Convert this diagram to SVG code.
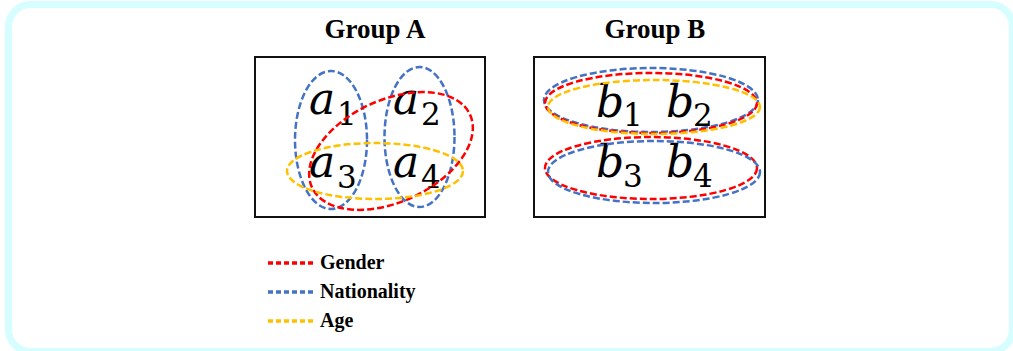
<svg xmlns="http://www.w3.org/2000/svg" width="1013" height="351" viewBox="0 0 1013 351">
<style>
.frame{fill:#ffffff;stroke:#d6fdff;stroke-width:7}
.box{fill:#ffffff;stroke:#111;stroke-width:2}
.title{font-family:"Liberation Serif",serif;font-weight:bold;font-size:27px;fill:#000;text-anchor:middle}
.var{font-family:"DejaVu Serif",serif;font-style:italic;font-size:44px;fill:#000}
.sub{font-family:"DejaVu Serif",serif;font-style:normal;font-size:31px;fill:#000}
.e{fill:none;stroke-width:2.5;stroke-dasharray:7 3}
.red{stroke:#ff0000}
.blue{stroke:#4472c4}
.yel{stroke:#ffc000}
.leg{fill:none;stroke-width:3.5;stroke-dasharray:5 3}
.lt{font-family:"Liberation Serif",serif;font-weight:bold;font-size:20px;fill:#000}
</style>
<rect class="frame" x="8.5" y="4.5" width="1004" height="347" rx="22"/>
<g id="groupA">
<text class="title" x="375" y="38">Group A</text>
<rect class="box" x="255" y="57" width="230" height="160"/>
<g id="a1"><text class="var" x="309" y="114">a</text><text class="sub" x="337" y="125">1</text></g>
<g id="a2"><text class="var" x="393" y="114">a</text><text class="sub" x="421" y="125">2</text></g>
<g id="a3"><text class="var" x="309" y="177">a</text><text class="sub" x="337" y="188">3</text></g>
<g id="a4"><text class="var" x="393" y="177">a</text><text class="sub" x="421" y="188">4</text></g>
</g>
<g id="groupB">
<text class="title" x="655" y="38">Group B</text>
<rect class="box" x="534" y="57" width="231" height="160"/>
<g id="b1"><text class="var" x="596" y="117">b</text><text class="sub" x="623" y="126">1</text></g>
<g id="b2"><text class="var" x="666" y="117">b</text><text class="sub" x="693" y="126">2</text></g>
<g id="b3"><text class="var" x="596" y="177">b</text><text class="sub" x="623" y="187">3</text></g>
<g id="b4"><text class="var" x="666" y="177">b</text><text class="sub" x="693" y="187">4</text></g>
</g>
<g id="connectors">
<ellipse class="e blue" cx="331" cy="140" rx="36" ry="69"/>
<ellipse class="e blue" cx="419.5" cy="137" rx="35" ry="70"/>
<ellipse class="e red" cx="391" cy="151" rx="87" ry="51" transform="rotate(-24.7 391 151)"/>
<ellipse class="e yel" cx="375" cy="171" rx="88" ry="28"/>
<ellipse class="e blue" cx="651" cy="100" rx="107" ry="32"/>
<ellipse class="e red" cx="651" cy="103" rx="106" ry="30"/>
<ellipse class="e yel" cx="654" cy="107" rx="106" ry="27"/>
<ellipse class="e red" cx="651" cy="168" rx="106" ry="31"/>
<ellipse class="e blue" cx="654" cy="172" rx="106" ry="31"/>
</g>
<g id="legend">
<line class="leg red" x1="268" y1="263" x2="314" y2="263"/>
<text class="lt" x="320" y="269">Gender</text>
<line class="leg blue" x1="268" y1="292" x2="314" y2="292"/>
<text class="lt" x="320" y="298">Nationality</text>
<line class="leg yel" x1="268" y1="321" x2="314" y2="321"/>
<text class="lt" x="320" y="327">Age</text>
</g>
</svg>
